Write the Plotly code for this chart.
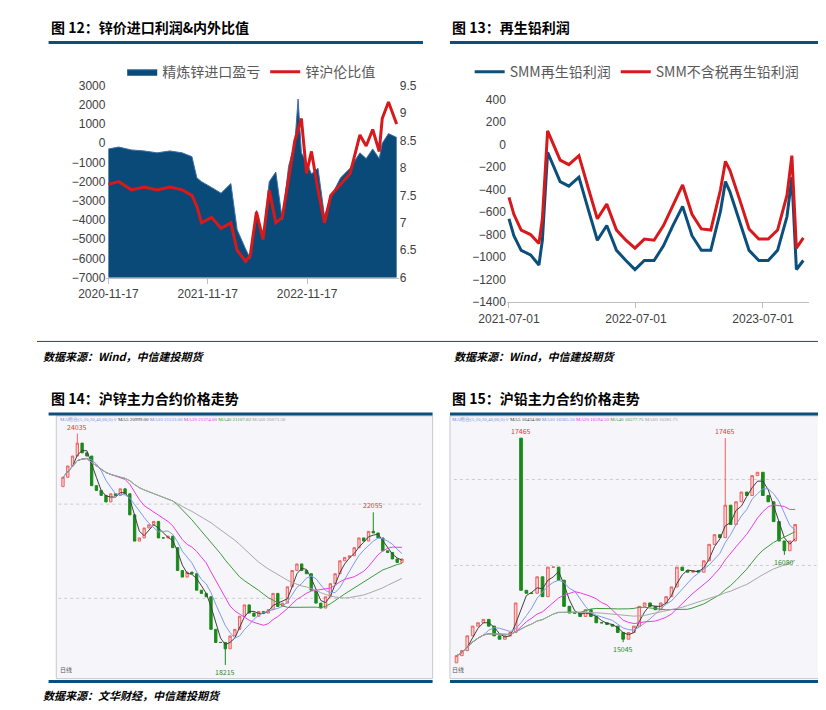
import pandas as pd
import plotly.graph_objects as go

# ---- 图12 data ----
zn_dates = ['2020-11-17', '2020-12-25', '2021-02-10', '2021-03-28', '2021-05-15', '2021-07-01',
            '2021-08-15', '2021-09-20', '2021-10-08', '2021-10-25', '2021-12-01', '2022-01-05',
            '2022-02-10', '2022-03-05', '2022-04-05', '2022-04-22', '2022-05-15', '2022-06-08',
            '2022-07-01', '2022-07-25', '2022-08-18', '2022-09-10', '2022-10-03', '2022-10-15',
            '2022-10-27', '2022-11-15', '2022-12-03', '2022-12-27', '2023-01-20', '2023-02-12',
            '2023-03-20', '2023-04-24', '2023-05-30', '2023-06-22', '2023-07-16', '2023-08-09',
            '2023-08-20', '2023-09-12', '2023-10-12']
import_profit = [-300, -200, -350, -400, -500, -400, -500, -700, -1800, -2000, -2300, -2600,
                 -2100, -4500, -5500, -6000, -3500, -5000, -2000, -1500, -4000, -1200, 0, 2300,
                 -500, -1000, -1600, -1300, -3800, -2800, -1800, -1300, -500, -800, -300, -800,
                 0, 500, 300]
ratio = [7.7, 7.75, 7.6, 7.65, 7.6, 7.65, 7.6, 7.5, 7.3, 7.0, 7.1, 6.9, 7.0, 6.5, 6.3, 6.4,
         7.2, 6.7, 7.6, 7.0, 7.1, 7.8, 8.5, 8.7, 8.9, 7.9, 8.3, 7.6, 7.0, 7.5, 7.7, 7.9, 8.6,
         8.4, 8.7, 8.3, 8.9, 9.2, 8.8]

# ---- 图13 data ----
pb_dates = ['2021-07-01', '2021-07-15', '2021-08-05', '2021-09-01', '2021-09-25', '2021-10-05',
            '2021-10-20', '2021-11-01', '2021-11-25', '2021-12-20', '2022-01-18', '2022-02-15',
            '2022-03-12', '2022-04-08', '2022-05-06', '2022-06-02', '2022-06-28', '2022-07-25',
            '2022-08-22', '2022-09-18', '2022-10-15', '2022-11-12', '2022-12-09', '2023-01-05',
            '2023-02-01', '2023-03-01', '2023-03-15', '2023-03-28', '2023-04-25', '2023-05-22',
            '2023-06-19', '2023-07-16', '2023-08-12', '2023-09-08', '2023-09-22', '2023-10-05',
            '2023-10-25']
smm_profit = [-660, -810, -940, -980, -1070, -850, -70, -160, -330, -370, -290, -590, -850,
              -720, -940, -1030, -1110, -1030, -1030, -900, -720, -550, -810, -940, -940, -590,
              -330, -420, -680, -940, -1030, -1030, -940, -640, -290, -1110, -1030]
smm_profit_notax = [-470, -620, -760, -800, -880, -660, 120, 30, -140, -180, -100, -400, -660,
                    -530, -760, -850, -920, -840, -850, -720, -540, -360, -620, -750, -760, -400,
                    -150, -230, -490, -750, -840, -840, -760, -450, -100, -920, -830]

# ---- 图14 沪锌 ----
zn_close = [22935, 23220, 23470, 23795, 23550, 23470, 22725, 22605, 22480, 22315, 22520, 22480,
            22645, 22520, 21990, 21330, 21410, 21660, 21740, 21825, 21410, 21410, 21455, 21165,
            20590, 20425, 20550, 20510, 20095, 20015, 19930, 19110, 18780, 18780, 18620, 18945,
            19110, 19440, 19725, 19520, 19440, 19560, 19520, 19605, 20015, 19685, 19770, 20180,
            20590, 20755, 20590, 20510, 20095, 19770, 19645, 19930, 20260, 20510, 20835, 20920,
            20960, 21165, 21410, 21330, 21575, 21535, 21410, 21085, 21045, 20880, 20795, 20880]
zn_open0 = 22700
zn_high_marks = {3: 24035, 65: 22055}
zn_low_marks = {34: 18215}

# ---- 图15 沪铅 ----
pb_close = [14885, 14945, 15120, 15235, 15275, 15315, 15235, 15120, 15080, 15120, 15160, 15510,
            15660, 15625, 15625, 15820, 15585, 15935, 15935, 15780, 15470, 15390, 15390, 15350,
            15430, 15350, 15275, 15275, 15255, 15235, 15160, 15080, 15160, 15235, 15470, 15510,
            15470, 15430, 15510, 15585, 15700, 15935, 15895, 15875, 15895, 15875, 16010, 16205,
            16320, 16285, 16670, 16440, 16710, 16825, 16785, 17020, 17060, 16785, 16710, 16475,
            16245, 16130, 16245, 16440]
pb_open0 = 14800
pb_open_marks = {12: 17465}
pb_high_marks = {12: 17465, 50: 17465}
pb_low_marks = {31: 15045, 61: 16080}

ma_windows = [3, 6, 12, 24, 36]
ma_colors = ['#404040', '#7f9be8', '#e83ee8', '#3c9a3c', '#a8a8a8']

W, H = 826, 710
def px(x): return x / W
def py(y): return 1 - y / H

fig = go.Figure()
font_cn = 'Noto Sans CJK SC'
navy = '#0b4f7c'

# 图12
fig.add_trace(go.Scatter(x=zn_dates, y=[-7000] * len(zn_dates), mode='lines', line=dict(width=0),
                         showlegend=False, hoverinfo='skip', xaxis='x', yaxis='y'))
fig.add_trace(go.Scatter(x=zn_dates, y=import_profit, mode='lines', fill='tonexty',
                         line=dict(color='#3d6fa8', width=1), fillcolor='#0a4a78',
                         name='精炼锌进口盈亏', xaxis='x', yaxis='y', legend='legend'))
fig.add_trace(go.Scatter(x=zn_dates, y=ratio, mode='lines', line=dict(color='#d7191c', width=3),
                         name='锌沪伦比值', xaxis='x', yaxis='y2', legend='legend'))

# 图13
fig.add_trace(go.Scatter(x=pb_dates, y=smm_profit, mode='lines', line=dict(color='#0b4f7c', width=3),
                         name='SMM再生铅利润', xaxis='x3', yaxis='y3', legend='legend2'))
fig.add_trace(go.Scatter(x=pb_dates, y=smm_profit_notax, mode='lines', line=dict(color='#d7191c', width=3),
                         name='SMM不含税再生铅利润', xaxis='x3', yaxis='y3', legend='legend2'))


def candle_panel(close, open0, open_marks, high_marks, low_marks, xa, ya):
    c = pd.Series(close, dtype=float)
    o = c.shift(1).fillna(open0)
    for k, v in open_marks.items():
        o[k] = v
    hi = pd.concat([o, c], axis=1).max(axis=1)
    lo = pd.concat([o, c], axis=1).min(axis=1)
    for k, v in high_marks.items():
        hi[k] = v
    for k, v in low_marks.items():
        lo[k] = v
    idx = list(range(len(c)))
    fig.add_trace(go.Candlestick(x=idx, open=o, high=hi, low=lo, close=c, xaxis=xa, yaxis=ya,
                                 increasing=dict(line=dict(color='#f06060', width=1), fillcolor='#fbd0d0'),
                                 decreasing=dict(line=dict(color='#1a8a1a', width=1), fillcolor='#1a8a1a'),
                                 showlegend=False, whiskerwidth=0))
    for w, col in zip(ma_windows, ma_colors):
        m = c.rolling(w, min_periods=1).mean()
        fig.add_trace(go.Scatter(x=idx, y=m, mode='lines', line=dict(color=col, width=1),
                                 xaxis=xa, yaxis=ya, showlegend=False))
    for k, v in high_marks.items():
        fig.add_annotation(x=k, y=v, xref=xa, yref=ya, text=str(v), showarrow=False, yshift=7,
                           font=dict(size=7, color='#e04040'))
    for k, v in low_marks.items():
        fig.add_annotation(x=k, y=v, xref=xa, yref=ya, text=str(v), showarrow=False, yshift=-7,
                           font=dict(size=7, color='#2a8a2a'))


candle_panel(zn_close, zn_open0, {}, zn_high_marks, zn_low_marks, 'x4', 'y4')
candle_panel(pb_close, pb_open0, pb_open_marks, pb_high_marks, pb_low_marks, 'x5', 'y5')

tick = dict(size=12, color='#404040', family='Liberation Sans')
fig.update_layout(
    width=W, height=H, margin=dict(l=0, r=0, t=0, b=0),
    paper_bgcolor='white', plot_bgcolor='white',
    font=dict(family=font_cn),
    xaxis=dict(domain=[px(72), px(375)], type='date', range=['2020-11-10', '2023-10-20'],
               tickvals=['2020-11-17', '2021-11-17', '2022-11-17'], tickformat='%Y-%m-%d',
               showline=True, linecolor='#bfbfbf', ticks='outside', tickcolor='#bfbfbf',
               showgrid=False, tickfont=tick, anchor='y'),
    yaxis=dict(domain=[py(268), py(72)], range=[-7000, 3000], dtick=1000, showgrid=False,
               zeroline=False, tickfont=tick),
    yaxis2=dict(overlaying='y', side='right', anchor='x', range=[6, 9.5], dtick=0.5,
                showgrid=False, zeroline=False, tickfont=tick),
    xaxis3=dict(domain=[px(487), px(800)], type='date', range=['2021-06-25', '2023-11-10'],
                tickvals=['2021-07-01', '2022-07-01', '2023-07-01'], tickformat='%Y-%m-%d',
                showline=True, linecolor='#bfbfbf', ticks='outside', tickcolor='#bfbfbf',
                showgrid=False, tickfont=tick, anchor='y3'),
    yaxis3=dict(domain=[py(293), py(86)], range=[-1400, 400], dtick=200, showgrid=False,
                zeroline=False, tickfont=tick, anchor='x3'),
    xaxis4=dict(domain=[px(22), px(398)], range=[-1, len(zn_close) + 3], visible=False,
                rangeslider=dict(visible=False), anchor='y4'),
    yaxis4=dict(domain=[py(677), py(410)], range=[17870, 24454], visible=False, anchor='x4'),
    xaxis5=dict(domain=[px(432), px(808)], range=[-0.5, len(pb_close) + 3], visible=False,
                rangeslider=dict(visible=False), anchor='y5'),
    yaxis5=dict(domain=[py(677), py(410)], range=[14612, 17717], visible=False, anchor='x5'),
    legend=dict(orientation='h', x=px(222), y=py(42), xanchor='center', yanchor='top',
                traceorder='normal', font=dict(size=14, color='#595959'), bgcolor='rgba(0,0,0,0)'),
    legend2=dict(orientation='h', x=px(622), y=py(42), xanchor='center', yanchor='top',
                 traceorder='normal', font=dict(size=14, color='#595959'), bgcolor='rgba(0,0,0,0)'),
)

shapes = [
    dict(type='line', xref='paper', yref='paper', x0=px(12), x1=px(400), y0=py(28), y1=py(28), line=dict(color=navy, width=3)),
    dict(type='line', xref='paper', yref='paper', x0=px(428), x1=px(822), y0=py(28), y1=py(28), line=dict(color=navy, width=3)),
    dict(type='line', xref='paper', yref='paper', x0=px(0), x1=px(826), y0=py(333), y1=py(333), line=dict(color=navy, width=1)),
    dict(type='line', xref='paper', yref='paper', x0=px(12), x1=px(410), y0=py(407), y1=py(407), line=dict(color=navy, width=3)),
    dict(type='line', xref='paper', yref='paper', x0=px(428), x1=px(822), y0=py(407), y1=py(407), line=dict(color=navy, width=3)),
    dict(type='line', xref='paper', yref='paper', x0=px(12), x1=px(410), y0=py(680), y1=py(680), line=dict(color=navy, width=3)),
    dict(type='line', xref='paper', yref='paper', x0=px(428), x1=px(822), y0=py(680), y1=py(680), line=dict(color=navy, width=3)),
    dict(type='rect', xref='paper', yref='paper', x0=px(20), x1=px(410), y0=py(677), y1=py(409),
         fillcolor='#f5f5fa', line=dict(color='#c8c8d0', width=1), layer='below'),
    dict(type='rect', xref='paper', yref='paper', x0=px(428), x1=px(816), y0=py(677), y1=py(409),
         fillcolor='#f5f5fa', line=dict(color='#c8c8d0', width=1), layer='below'),
]
for yv in [22260, 19890]:
    shapes.append(dict(type='line', xref='x4', yref='y4', x0=-1, x1=len(zn_close) + 3, y0=yv, y1=yv,
                       line=dict(color='#cccccc', width=1, dash='dot'), layer='below'))
for yv in [16975, 15955]:
    shapes.append(dict(type='line', xref='x5', yref='y5', x0=-0.5, x1=len(pb_close) + 3, y0=yv, y1=yv,
                       line=dict(color='#cccccc', width=1, dash='dot'), layer='below'))
fig.update_layout(shapes=shapes)

title_font = dict(size=14, color='black', family=font_cn)
texts = [
    (12, 12, '<b>图 12：锌价进口利润&内外比值</b>', title_font),
    (428, 12, '<b>图 13：再生铅利润</b>', title_font),
    (12, 391, '<b>图 14：沪锌主力合约价格走势</b>', title_font),
    (428, 391, '<b>图 15：沪铅主力合约价格走势</b>', title_font),
    (4, 348, '<b><i>数据来源：Wind，中信建投期货</i></b>', dict(size=11, color='black', family=font_cn)),
    (430, 348, '<b><i>数据来源：Wind，中信建投期货</i></b>', dict(size=11, color='black', family=font_cn)),
    (4, 694, '<b><i>数据来源：文华财经，中信建投期货</i></b>', dict(size=11, color='black', family=font_cn)),
    (22, 413, '<span style="color:#6f8fe0">MA组合(5,10,20,40,60,0)∨</span> <span style="color:#404040">MA5 20999.00</span> '
              '<span style="color:#6f8fe0">MA10 21133.00</span> <span style="color:#e040e0">MA20 21374.00</span> '
              '<span style="color:#3c9a3c">MA40 21107.63</span> <span style="color:#a0a0a0">MA60 20873.58</span>',
     dict(size=5, family='Liberation Sans Narrow')),
    (428, 413, '<span style="color:#6f8fe0">MA组合(5,10,20,40,60,0)∨</span> <span style="color:#404040">MA5 16434.00</span> '
               '<span style="color:#6f8fe0">MA10 16365.50</span> <span style="color:#e040e0">MA20 16594.50</span> '
               '<span style="color:#3c9a3c">MA40 16577.75</span> <span style="color:#a0a0a0">MA60 16381.75</span>',
     dict(size=5, family='Liberation Sans Narrow')),
    (22, 668, '日线', dict(size=6, color='#555')),
    (428, 668, '日线', dict(size=6, color='#555')),
]
for x, y, t, f in texts:
    fig.add_annotation(x=px(x), y=py(y), xref='paper', yref='paper', text=t, showarrow=False,
                       xanchor='left', yanchor='middle', font=f)

fig.write_html("out.html")
